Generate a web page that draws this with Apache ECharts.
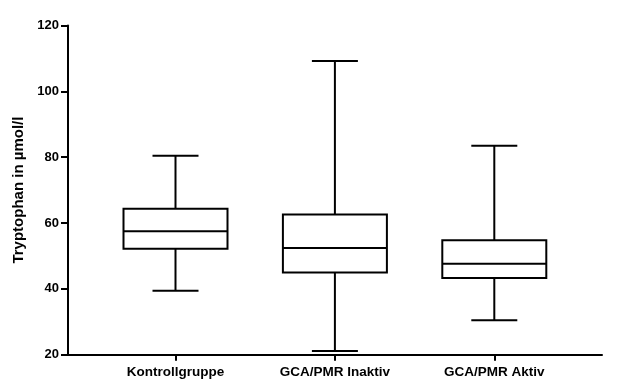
<!DOCTYPE html>
<html>
<head>
<meta charset="utf-8">
<script src="https://cdn.jsdelivr.net/npm/echarts@6/dist/echarts.min.js"></script>
<style>
html,body{margin:0;padding:0;background:#fff;}
#chart{width:641px;height:390px;}
</style>
</head>
<body>
<div id="chart"></div>
<script>
const categories = ['Kontrollgruppe', 'GCA/PMR Inaktiv', 'GCA/PMR Aktiv'];
const whiskerLow = [39.4, 21.1, 30.5];
const q1 = [52.2, 45.0, 43.3];
const median = [57.5, 52.4, 47.6];
const q3 = [64.3, 62.6, 54.8];
const whiskerHigh = [80.4, 109.2, 83.5];
const yTicks = [20, 40, 60, 80, 100, 120];

const boxData = categories.map((c, i) => [i, whiskerLow[i], q1[i], median[i], q3[i], whiskerHigh[i]]);

const FONT = '"Liberation Sans", Arial, sans-serif';
const chart = echarts.init(document.getElementById('chart'), null, {renderer: 'canvas'});

const BOX_W = 104, CAP_W = 46, LW = 2;

chart.setOption({
  animation: false,
  backgroundColor: '#fff',
  grid: [
    {left: 68, right: 39, top: 25.5, bottom: 35.3},
    {left: 95.8, width: 478.2, top: 25.5, bottom: 35.3}
  ],
  xAxis: [
    {
      gridIndex: 0, type: 'value', min: 0, max: 1,
      axisLine: {show: true, onZero: false, lineStyle: {color: '#000', width: 2}},
      axisTick: {show: false}, axisLabel: {show: false}, splitLine: {show: false}
    },
    {
      gridIndex: 1, type: 'category', data: categories, boundaryGap: true,
      axisLine: {show: false},
      axisTick: {show: true, alignWithLabel: true, length: 6, lineStyle: {color: '#000', width: 2}},
      axisLabel: {show: true, color: '#000', fontFamily: FONT, fontWeight: 'bold', fontSize: 13.5, margin: 11},
      splitLine: {show: false}
    }
  ],
  yAxis: [
    {
      gridIndex: 0, type: 'value', min: yTicks[0], max: yTicks[yTicks.length - 1], interval: 20,
      name: 'Tryptophan in µmol/l', nameLocation: 'middle', nameGap: 32,
      nameTextStyle: {color: '#000', fontFamily: FONT, fontWeight: 'bold', fontSize: 15},
      axisLine: {show: true, onZero: false, lineStyle: {color: '#000', width: 2}},
      axisTick: {show: true, length: 7, lineStyle: {color: '#000', width: 2}},
      axisLabel: {color: '#000', fontFamily: FONT, fontWeight: 'bold', fontSize: 13, margin: 9},
      splitLine: {show: false}
    },
    {
      gridIndex: 1, type: 'value', min: yTicks[0], max: yTicks[yTicks.length - 1], show: false
    }
  ],
  series: [{
    type: 'custom',
    xAxisIndex: 1, yAxisIndex: 1,
    data: boxData,
    encode: {x: 0, y: [1, 2, 3, 4, 5]},
    renderItem: function (params, api) {
      const x = api.value(0);
      const pLow = api.coord([x, api.value(1)]);
      const pQ1 = api.coord([x, api.value(2)]);
      const pMed = api.coord([x, api.value(3)]);
      const pQ3 = api.coord([x, api.value(4)]);
      const pHigh = api.coord([x, api.value(5)]);
      const cx = pMed[0];
      const st = {stroke: '#000', lineWidth: LW, fill: null};
      return {
        type: 'group',
        children: [
          {type: 'rect', shape: {x: cx - BOX_W / 2, y: pQ3[1], width: BOX_W, height: pQ1[1] - pQ3[1]}, style: {stroke: '#000', lineWidth: LW, fill: '#fff'}},
          {type: 'line', shape: {x1: cx - BOX_W / 2, y1: pMed[1], x2: cx + BOX_W / 2, y2: pMed[1]}, style: st},
          {type: 'line', shape: {x1: cx, y1: pQ3[1], x2: cx, y2: pHigh[1]}, style: st},
          {type: 'line', shape: {x1: cx, y1: pQ1[1], x2: cx, y2: pLow[1]}, style: st},
          {type: 'line', shape: {x1: cx - CAP_W / 2, y1: pHigh[1], x2: cx + CAP_W / 2, y2: pHigh[1]}, style: st},
          {type: 'line', shape: {x1: cx - CAP_W / 2, y1: pLow[1], x2: cx + CAP_W / 2, y2: pLow[1]}, style: st}
        ]
      };
    }
  }]
});
</script>
</body>
</html>
